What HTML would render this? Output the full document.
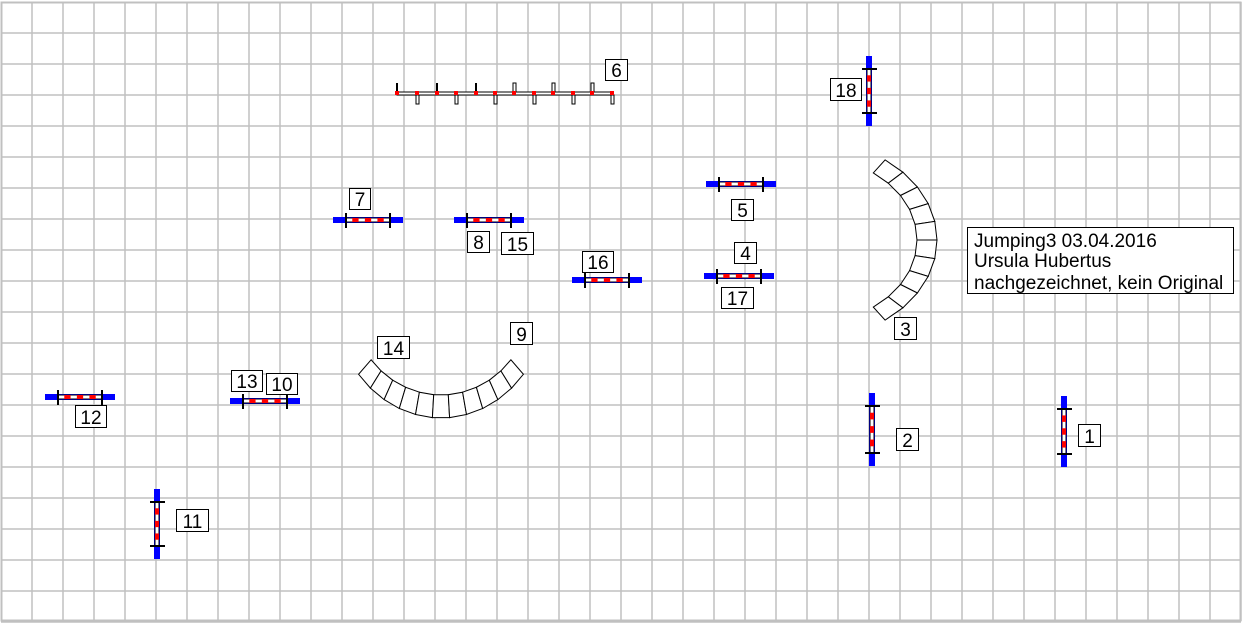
<!DOCTYPE html>
<html><head><meta charset="utf-8"><style>
html,body{margin:0;padding:0;background:#fff}
svg{display:block}
text{font-family:"Liberation Sans",Arial,sans-serif;font-size:19px;fill:#000}
</style></head><body>
<svg id="s" width="1243" height="623" xmlns="http://www.w3.org/2000/svg">
<rect x="0" y="0" width="1243" height="623" fill="#fff"/>
<g id="grid" stroke="#c0c0c0" stroke-width="1.5"></g>
<rect x="1.5" y="2.5" width="1239" height="618" fill="none" stroke="#c0c0c0" stroke-width="2"/>
<g id="fg"></g>
<rect x="967.5" y="227.5" width="266" height="66" fill="#fff" stroke="#000"/>
<text x="974" y="247">Jumping3 03.04.2016</text>
<text x="974" y="267">Ursula Hubertus</text>
<text x="974" y="289">nachgezeichnet, kein Original</text>
</svg>
<script>
var g=document.getElementById('grid'),fg=document.getElementById('fg');
var h='';
for(var x=32;x<1243;x+=31)h+='<line x1="'+x+'" y1="2" x2="'+x+'" y2="621"/>';
for(var y=33;y<623;y+=31)h+='<line x1="1" y1="'+y+'" x2="1241" y2="'+y+'"/>';
g.innerHTML=h;
var o='';
function hf(x1,x2,y){
 var p1=x1+13,p2=x2-13;
 o+='<rect x="'+x1+'" y="'+(y-3)+'" width="'+(x2-x1)+'" height="6" fill="#0000ff"/>';
 o+='<rect x="'+p1+'" y="'+(y-2)+'" width="'+(p2-p1)+'" height="4" fill="#fff" stroke="#000" stroke-width="1"/>';
 var n=3,seg=(p2-p1)/(2*n+1);
 for(var i=0;i<n;i++)o+='<rect x="'+(p1+seg*(2*i+1))+'" y="'+(y-2)+'" width="'+seg+'" height="4" fill="#f00"/>';
 o+='<line x1="'+p1+'" y1="'+(y-7)+'" x2="'+p1+'" y2="'+(y+8)+'" stroke="#000" stroke-width="2"/>';
 o+='<line x1="'+p2+'" y1="'+(y-7)+'" x2="'+p2+'" y2="'+(y+8)+'" stroke="#000" stroke-width="2"/>';
}
function vf(x,y1,y2){
 var p1=y1+13,p2=y2-13;
 o+='<rect x="'+(x-3)+'" y="'+y1+'" width="6" height="'+(y2-y1)+'" fill="#0000ff"/>';
 o+='<rect x="'+(x-2)+'" y="'+p1+'" width="4" height="'+(p2-p1)+'" fill="#fff" stroke="#000" stroke-width="1"/>';
 var n=3,seg=(p2-p1)/(2*n+1);
 for(var i=0;i<n;i++)o+='<rect x="'+(x-2)+'" y="'+(p1+seg*(2*i+1))+'" width="4" height="'+seg+'" fill="#f00"/>';
 o+='<line x1="'+(x-7)+'" y1="'+p1+'" x2="'+(x+8)+'" y2="'+p1+'" stroke="#000" stroke-width="2"/>';
 o+='<line x1="'+(x-7)+'" y1="'+p2+'" x2="'+(x+8)+'" y2="'+p2+'" stroke="#000" stroke-width="2"/>';
}
function lab(x,y,w,hh,t){
 o+='<rect x="'+(x+.5)+'" y="'+(y+.5)+'" width="'+w+'" height="'+hh+'" fill="#fff" stroke="#000"/>';
 o+='<text x="'+(x+w/2+.5)+'" y="'+(y+hh-3)+'" text-anchor="middle">'+t+'</text>';
}
function arc(cx,cy,irx,iry,orx,ory,a0,a1,n){
 for(var i=0;i<n;i++){
  var t0=(a0+(a1-a0)*i/n)*Math.PI/180,t1=(a0+(a1-a0)*(i+1)/n)*Math.PI/180;
  var pts=[[cx+irx*Math.cos(t0),cy+iry*Math.sin(t0)],[cx+orx*Math.cos(t0),cy+ory*Math.sin(t0)],
   [cx+orx*Math.cos(t1),cy+ory*Math.sin(t1)],[cx+irx*Math.cos(t1),cy+iry*Math.sin(t1)]];
  o+='<polygon points="'+pts.map(function(p){return p[0].toFixed(1)+','+p[1].toFixed(1)}).join(' ')+'" fill="#fff" stroke="#000" stroke-width="1"/>';
 }
}
o+='<rect x="397" y="92" width="216" height="3" fill="#fff" stroke="#000" stroke-width="1"/>';
var xs=[397,417,437,456,476,495,514,534,553,573,592,612];
xs.forEach(function(x,i){
 if(i%2==0){ if(i<6) o+='<rect x="'+(x-1)+'" y="83" width="2" height="9" fill="#000"/>';
   else o+='<rect x="'+(x-1)+'" y="83" width="3" height="9" fill="#fff" stroke="#000" stroke-width="1"/>';}
 else o+='<rect x="'+(x-1)+'" y="95" width="3" height="9" fill="#fff" stroke="#000" stroke-width="1"/>';
 o+='<rect x="'+(x-2)+'" y="91" width="4" height="4" fill="#f00"/>';
});
lab(605,59,22,21,'6');
hf(333,403,220);lab(349,188,21,21,'7');
hf(454,524,220);lab(467,231,22,21,'8');lab(501,232,32,22,'15');
hf(572,642,280);lab(582,251,31,21,'16');
hf(706,776,184);lab(731,199,22,21,'5');
hf(704,774,276);lab(734,242,22,21,'4');lab(721,287,32,21,'17');
hf(45,115,397);lab(75,405,31,22,'12');
hf(230,300,401);lab(231,370,31,21,'13');lab(266,373,31,21,'10');
vf(869,56,126);lab(830,78,31,22,'18');
vf(872,393,466);lab(896,428,22,22,'2');
vf(1064,396,467);lab(1078,424,22,22,'1');
vf(157,489,559);lab(176,509,32,22,'11');
arc(811,240,106,83,126,99,-54,54,10);lab(894,317,22,22,'3');
arc(441,300,90,95,106,118,141,39,11);lab(377,336,32,22,'14');lab(510,322,22,22,'9');
fg.innerHTML=o;
</script>
</body></html>
